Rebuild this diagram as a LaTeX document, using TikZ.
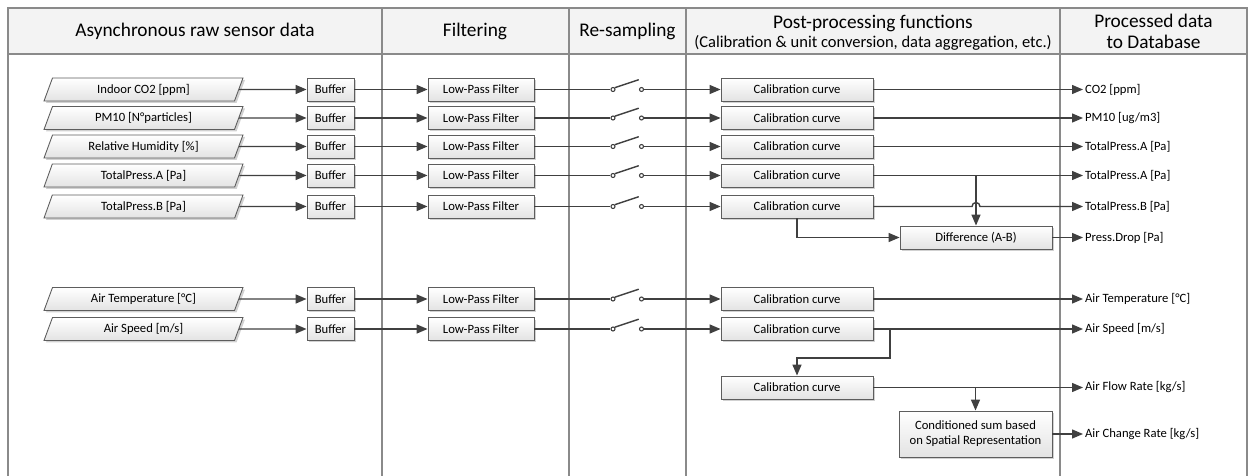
\documentclass[tikz,border=0pt]{standalone}
\usepackage{fontspec}
\setmainfont{Carlito}
\usetikzlibrary{arrows.meta,positioning,calc,shapes.geometric,shadows}

\definecolor{framegray}{HTML}{8A8A8A}
\definecolor{linegray}{HTML}{404040}
\definecolor{headgray}{HTML}{F3F3F3}

\begin{document}
\begin{tikzpicture}[x=0.02cm, y=-0.02cm,
    frame/.style={draw=framegray, line width=0.7pt},
    flow/.style={draw=linegray, line width=0.8pt, -{Triangle[length=0.22cm, width=0.18cm]}},
    wire/.style={draw=linegray, line width=0.8pt},
    box/.style={draw=linegray!85, line width=0.5pt, top color=white, bottom color=black!11,
      drop shadow={shadow xshift=0.04cm, shadow yshift=-0.04cm, fill=black!18, opacity=1},
      minimum height=0.46cm, inner sep=1pt, font=\fontsize{7.2}{8.6}\selectfont},
    inbox/.style={box, shape=trapezium, trapezium left angle=60, trapezium right angle=120,
      trapezium stretches body, minimum width=3.98cm},
    contact/.style={circle, draw=linegray, fill=white, line width=0.6pt, minimum size=0.08cm, inner sep=0pt},
    outlabel/.style={anchor=west, inner sep=1pt, font=\fontsize{7.2}{8.6}\selectfont},
    head/.style={font=\fontsize{11}{13}\selectfont, align=center}]

  \useasboundingbox (0,0) rectangle (1252,476);

  % Swim lanes
  \fill[headgray] (8,8) rectangle (1247,54);
  \draw[frame] (8,480) -- (8,8) -- (1247,8) -- (1247,480);
  \draw[frame] (8,54) -- (1247,54);
  \foreach \xd in {382,569,686,1060}
    \draw[frame] (\xd,8) -- (\xd,480);

  \node[head] (hdraw) at (195,31) {Asynchronous raw sensor data};
  \node[head] (hdfilt) at (475,31) {Filtering};
  \node[head] (hdsamp) at (627.5,31) {Re-sampling};
  \node[head] (hdpost) at (873,23) {Post-processing functions};
  \node[font=\fontsize{9.4}{11}\selectfont] (hdpostsub) at (873,43) {(Calibration \& unit conversion, data aggregation, etc.)};
  \node[head] (hddb) at (1153.5,31.5) {Processed data\\[-1pt]to Database};

  % Sensor chains
  \foreach \n/\y/\src/\dst in {1/89.5/{Indoor CO2 [ppm]}/{CO2 [ppm]},
      2/118/{PM10 [N°particles]}/{PM10 [ug/m3]},
      3/146.5/{Relative Humidity [\%]}/{TotalPress.A [Pa]},
      4/175.5/{TotalPress.A [Pa]}/{TotalPress.A [Pa]},
      5/206.5/{TotalPress.B [Pa]}/{TotalPress.B [Pa]},
      7/299/{Air Temperature [°C]}/{Air Temperature [°C]},
      8/329/{Air Speed [m/s]}/{Air Speed [m/s]}} {
    \node[inbox] (src\n) at (143.5,\y) {\src};
    \node[box, minimum width=0.94cm] (buf\n) at (330.5,\y) {Buffer};
    \node[box, minimum width=2.12cm] (lpf\n) at (481,\y) {Low-Pass Filter};
    \node[contact] (swa\n) at (613,\y) {};
    \node[contact] (swb\n) at (641.5,\y) {};
    \node[box, minimum width=3.04cm] (cal\n) at (797,\y) {Calibration curve};
    \node[outlabel] (out\n) at (1083,\y) {\dst};
    \draw[flow] (src\n) -- (buf\n);
    \draw[flow] (buf\n) -- (lpf\n);
    \draw[wire] (lpf\n) -- (swa\n);
    \draw[wire] (swa\n.north east) -- ++(24,-8);
    \draw[flow] (swb\n) -- (cal\n);
    \ifnum\n=5 \else \draw[flow] (cal\n) -- (out\n); \fi
  }

  % Pressure drop
  \node[box, minimum width=3.04cm] (diff) at (976,237.5) {Difference (A-B)};
  \node[outlabel] (out6) at (1083,237.5) {Press.Drop [Pa]};
  \draw[flow] (cal5) -- (972,206.5) arc[start angle=180, end angle=360, radius=4] -- (out5);
  \draw[flow] (cal4.east -| diff) -- (diff);
  \draw[flow] (cal5.south) |- (diff);
  \draw[flow] (diff) -- (out6);

  % Air flow and air change
  \node[box, minimum width=3.04cm] (cal9) at (797,387.5) {Calibration curve};
  \node[outlabel] (out9) at (1083,387.5) {Air Flow Rate [kg/s]};
  \node[box, minimum width=3.06cm, minimum height=0.92cm, align=center] (cond) at (975.5,434) {Conditioned sum based\\on Spatial Representation};
  \node[outlabel] (out10) at (1083,434) {Air Change Rate [kg/s]};
  \coordinate (k8) at (890,358);
  \draw[flow] (cal8.east) -| (k8) -| (cal9);
  \draw[flow] (cal9) -- (out9);
  \draw[flow] (cal9.east -| cond) -- (cond);
  \draw[flow] (cond) -- (out10);
\end{tikzpicture}
\end{document}
